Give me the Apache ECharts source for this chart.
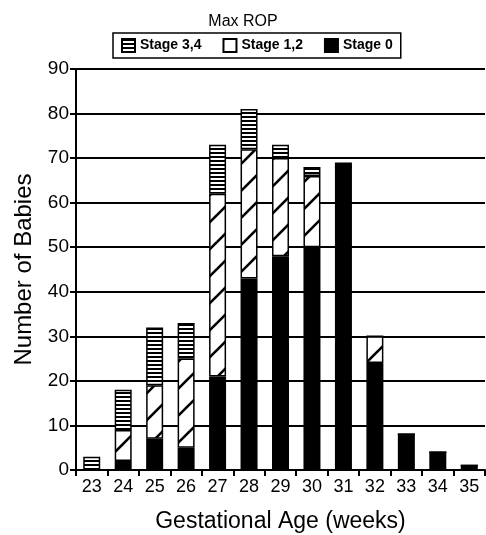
<!DOCTYPE html>
<html>
<head>
<meta charset="utf-8">
<script src="https://cdn.jsdelivr.net/npm/echarts@6/dist/echarts.min.js"></script>
<style>
    html, body { margin: 0; padding: 0; background: #fff; }
    #main { width: 486px; height: 535px; }
</style>
</head>
<body>
<div id="main"></div>
<script>
// 孕周（横轴）
var weeks = ['23', '24', '25', '26', '27', '28', '29', '30', '31', '32', '33', '34', '35'];
// 各分期人数
var stage0 = [0, 2, 7, 5, 21, 43, 48, 50, 68, 24, 8, 4, 1];
var stage12 = [0, 7, 12, 20, 41, 29, 22, 16, 0, 6, 0, 0, 0];
var stage34 = [3, 9, 13, 8, 11, 9, 3, 2, 1, 0, 0, 0, 0];
var yTicks = [0, 10, 20, 30, 40, 50, 60, 70, 80, 90];

var FONT = '"Liberation Sans", Arial, sans-serif';

// 横线填充 Stage 3,4
function StripePattern() {
    var c = document.createElement('canvas');
    c.width = 4; c.height = 4;
    var ctx = c.getContext('2d');
    ctx.fillStyle = '#fff';
    ctx.fillRect(0, 0, 4, 4);
    ctx.fillStyle = '#000';
    ctx.fillRect(0, 0, 4, 2);
    return { image: c, repeat: 'repeat' };
}
// 斜线填充 Stage 1,2
function HatchPattern() {
    var s = 27;
    var c = document.createElement('canvas');
    c.width = s; c.height = s;
    var ctx = c.getContext('2d');
    ctx.fillStyle = '#fff';
    ctx.fillRect(0, 0, s, s);
    ctx.strokeStyle = '#000';
    ctx.lineWidth = 2.6;
    for (var k = -1; k <= 1; k++) {
        ctx.beginPath();
        ctx.moveTo(k * s - 2, s + 2);
        ctx.lineTo(k * s + s + 2, -2);
        ctx.stroke();
    }
    return { image: c, repeat: 'repeat' };
}

function barSeries(name, data, color) {
    return {
        name: name,
        type: 'bar',
        stack: 'rop',
        data: data,
        barWidth: 17,
        itemStyle: { color: color, borderColor: '#000', borderWidth: 1.5 },
        emphasis: { disabled: true }
    };
}

var myChart = echarts.init(document.getElementById('main'), null, { renderer: 'canvas' });
var option = {
    animation: false,
    backgroundColor: '#fff',
    textStyle: { fontFamily: FONT, color: '#000' },
    title: {
        text: 'Max ROP',
        left: 'center',
        top: 9,
        textStyle: { fontFamily: FONT, fontSize: 16, fontWeight: 'normal', color: '#000' }
    },
    legend: {
        left: 113,
        top: 33,
        padding: [5, 8],
        icon: 'rect',
        itemWidth: 13,
        itemHeight: 13,
        itemGap: 21,
        borderColor: '#000',
        borderWidth: 1.5,
        data: ['Stage 3,4', 'Stage 1,2', 'Stage 0'],
        textStyle: { fontFamily: FONT, fontSize: 14, fontWeight: 'bold', color: '#000' }
    },
    grid: { left: 76, right: 1, top: 69, bottom: 65, containLabel: false, outerBoundsMode: 'none' },
    xAxis: {
        type: 'category',
        data: weeks,
        name: 'Gestational Age (weeks)',
        nameLocation: 'middle',
        nameGap: 40,
        nameTextStyle: { fontFamily: FONT, fontSize: 23, color: '#000' },
        axisLine: { lineStyle: { color: '#000', width: 2 } },
        axisTick: { show: true, length: 6, lineStyle: { color: '#000', width: 2 } },
        axisLabel: { interval: 0, margin: 8, fontFamily: FONT, fontSize: 18, color: '#000' }
    },
    yAxis: {
        type: 'value',
        min: yTicks[0],
        max: yTicks[yTicks.length - 1],
        interval: 10,
        name: 'Number of Babies',
        nameLocation: 'middle',
        nameGap: 40,
        nameTextStyle: { fontFamily: FONT, fontSize: 24, color: '#000' },
        axisLine: { show: true, lineStyle: { color: '#000', width: 2 } },
        axisTick: { show: true, length: 6, lineStyle: { color: '#000', width: 2 } },
        axisLabel: { margin: 7, fontFamily: FONT, fontSize: 19, color: '#000' },
        splitLine: { show: true, lineStyle: { color: '#000', width: 2 } }
    },
    series: [
        barSeries('Stage 0', stage0, '#000'),
        barSeries('Stage 1,2', stage12, HatchPattern()),
        barSeries('Stage 3,4', stage34, StripePattern())
    ]
};
myChart.setOption(option);
window.onresize = function () {
    myChart.resize();
}
</script>
</body>
</html>
